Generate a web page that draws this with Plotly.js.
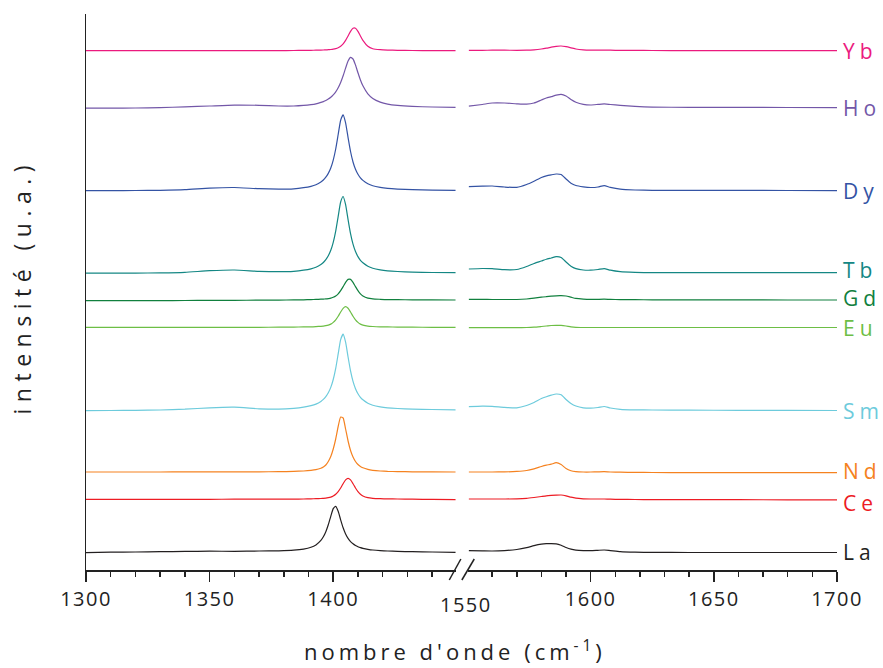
<!DOCTYPE html>
<html>
<head>
<meta charset="utf-8">
<script src="https://cdn.plot.ly/plotly-3.0.1.min.js"></script>
<style>
  html, body { margin: 0; padding: 0; background: #fff; }
  #chart { width: 883px; height: 668px; }
  .xtick text, .x2tick text { letter-spacing: 1.5px; }
</style>
</head>
<body>
<div id="chart"></div>
<script>
// ---- Data (intensity in arbitrary units, offsets included) ----
const elements = ['La', 'Ce', 'Nd', 'Sm', 'Eu', 'Gd', 'Tb', 'Dy', 'Ho', 'Yb'];
const colors = ['#231F20', '#ED1C24', '#F58220', '#6DCBDC', '#6DBE45', '#11803E', '#148784', '#3453A4', '#7357A8', '#EB1A7E'];

const xLeft = [1300,1310,1320,1330,1340,1350,1360,1370,1378,1384,1388,1391,1393,1395,1396,1397,1398,1399,1400,1401,1402,1403,1404,1405,1406,1407,1408,1409,1410,1411,1412,1414,1416,1419,1422,1426,1432,1440,1449.5];
const xRight = [1550.5,1556,1560,1565,1570,1574,1577,1580,1582,1584,1586,1588,1590,1592,1594,1597,1600,1603,1605.5,1608,1612,1618,1625,1640,1660,1680,1700];

const La_L = [17.3,17.8,18.0,18.3,18.6,18.8,18.7,19.0,19.2,19.8,20.9,22.7,25.1,29.6,33.2,38.3,45.2,53.7,61.4,63.7,58.7,50.2,42.2,36.0,31.6,28.4,26.2,24.5,23.3,22.4,21.7,20.7,20.0,19.4,19.0,18.6,18.3,18.0,17.6];
const Ce_L = [70.7,70.7,70.7,70.7,70.7,70.7,70.8,70.8,70.8,70.9,71.0,71.2,71.3,71.5,71.7,71.9,72.3,72.9,74.0,75.7,78.4,82.0,86.3,90.1,91.7,90.1,86.3,82.0,78.4,75.7,74.0,72.3,71.7,71.3,71.1,71.0,70.8,70.6,70.3];
const Nd_L = [98.0,98.0,98.0,98.0,98.1,98.1,98.1,98.2,98.3,98.6,99.0,99.6,100.3,101.8,103.0,105.0,108.5,113.5,121.0,131.0,143.5,153.0,152.0,141.0,129.0,119.5,113.0,108.5,105.5,103.5,102.2,100.6,99.7,99.0,98.6,98.4,98.2,98.1,98.0];
const Sm_L = [159.4,159.5,159.6,160.0,160.8,162.2,162.8,161.2,160.8,161.6,162.8,164.3,165.9,168.6,170.6,173.4,177.2,182.6,190.5,201.6,216.1,230.4,235.8,227.8,213.0,199.1,188.6,181.3,176.3,172.7,170.2,166.8,164.8,163.2,162.2,161.5,160.9,160.5,160.2];
const Eu_L = [242.7,242.7,242.7,242.7,242.7,242.7,242.7,242.7,242.8,242.9,243.1,243.2,243.4,243.7,243.9,244.3,244.9,245.9,247.6,250.2,253.8,258.0,261.7,263.3,261.7,258.0,253.8,250.2,247.6,245.9,244.9,243.9,243.5,243.2,243.1,242.9,242.8,242.7,242.7];
const Gd_L = [269.3,269.3,269.4,269.4,269.5,269.6,269.7,269.8,269.9,270.1,270.2,270.4,270.6,270.8,270.9,271.1,271.4,271.8,272.7,274.0,276.2,279.4,283.4,287.6,290.6,290.6,287.6,283.4,279.4,276.2,274.0,271.8,271.1,270.7,270.4,270.3,270.2,270.1,270.0];
const Tb_L = [296.8,296.8,296.9,297.1,297.7,299.3,300.0,298.7,298.3,298.7,299.8,301.2,302.8,305.5,307.5,310.4,314.2,319.7,327.7,338.9,353.6,368.0,373.5,365.4,350.4,336.4,325.8,318.4,313.4,309.7,307.2,303.8,301.8,300.2,299.2,298.5,297.9,297.5,297.3];
const Dy_L = [379.4,379.4,379.5,379.7,380.3,381.9,382.5,381.3,380.9,381.2,382.3,383.7,385.3,388.0,390.0,392.8,396.6,402.0,409.9,421.0,435.5,449.8,455.2,447.2,432.4,418.5,408.0,400.7,395.7,392.1,389.6,386.2,384.2,382.6,381.6,380.9,380.3,379.9,379.7];
const Ho_L = [461.8,461.9,462.0,462.4,463.1,464.0,464.9,464.7,464.0,464.0,464.6,465.4,466.2,467.6,468.4,469.5,470.9,472.7,475.1,478.1,482.2,487.5,494.2,501.9,509.0,512.7,511.0,505.0,497.2,490.0,484.2,476.2,471.6,467.9,465.9,464.6,463.6,463.0,462.7];
const Yb_L = [519.3,519.3,519.3,519.3,519.3,519.4,519.4,519.4,519.4,519.5,519.6,519.7,519.8,519.9,520.0,520.1,520.3,520.5,520.8,521.3,522.2,523.7,526.1,529.6,534.0,538.6,541.8,541.8,538.6,534.0,529.6,523.7,521.3,520.3,519.9,519.7,519.5,519.4,519.3];

const La_R = [19.3,19.1,19.0,19.4,20.5,22.3,24.3,25.8,26.3,26.4,26.2,24.8,22.5,20.8,19.9,19.4,19.3,19.7,20.0,19.4,18.4,17.8,17.6,17.5,17.5,17.5,17.5];
const Ce_R = [71.0,71.0,71.0,71.0,71.1,71.6,72.5,73.5,74.2,74.6,74.9,75.0,74.2,72.8,71.8,71.2,71.0,71.0,71.0,70.8,70.6,70.5,70.4,70.3,70.3,70.2,70.2];
const Nd_R = [98.0,98.0,98.0,98.1,98.6,99.5,101.2,103.5,104.8,105.8,107.3,105.5,101.5,99.3,98.4,98.0,98.0,98.2,98.3,98.0,97.8,97.6,97.5,97.4,97.4,97.3,97.3];
const Sm_R = [163.3,163.8,163.6,162.6,162.2,164.5,167.5,171.5,173.3,174.8,176.0,175.2,170.5,166.5,164.0,162.2,161.8,162.5,163.5,162.0,160.6,160.1,160.0,159.8,159.7,159.6,159.5];
const Eu_R = [242.4,242.4,242.4,242.4,242.4,242.5,242.8,243.5,244.0,244.5,244.7,244.6,244.0,243.2,242.7,242.5,242.5,242.5,242.5,242.5,242.5,242.5,242.5,242.5,242.5,242.5,242.5];
const Gd_R = [270.6,270.6,270.5,270.5,270.5,271.0,271.8,272.8,273.3,273.8,274.2,274.3,274.0,272.8,271.6,270.9,270.6,270.7,270.8,270.6,270.4,270.3,270.2,270.1,270.1,270.0,270.0];
const Tb_R = [301.0,301.5,301.3,300.3,300.5,303.5,306.5,309.0,310.8,312.0,313.3,312.5,308.0,303.8,301.4,300.0,299.8,300.5,301.4,299.8,298.3,297.6,297.3,297.3,297.3,297.4,297.3];
const Dy_R = [383.3,383.8,384.0,383.0,382.6,385.5,388.8,392.5,394.2,395.2,396.0,395.5,391.0,386.8,384.5,383.2,382.5,383.0,384.4,382.6,380.8,380.0,379.7,379.6,379.6,379.5,379.4];
const Ho_R = [463.8,465.5,467.0,467.0,466.2,465.8,467.0,470.0,472.0,473.3,474.8,475.7,474.0,470.5,467.8,465.6,465.0,465.6,466.1,465.5,464.6,463.6,462.9,462.7,462.6,462.5,462.4];
const Yb_R = [519.6,519.7,519.8,519.8,519.7,519.8,520.2,521.0,521.8,522.8,523.7,524.0,523.3,522.2,521.0,520.2,519.9,519.8,519.9,519.8,519.6,519.6,519.5,519.4,519.4,519.3,519.3];

const leftSeries = [La_L, Ce_L, Nd_L, Sm_L, Eu_L, Gd_L, Tb_L, Dy_L, Ho_L, Yb_L];
const rightSeries = [La_R, Ce_R, Nd_R, Sm_R, Eu_R, Gd_R, Tb_R, Dy_R, Ho_R, Yb_R];

const leftTicks = [1300, 1350, 1400];
const rightTicks = [1600, 1650, 1700];
const breakTickLabel = '1550';
const xTitle = "nombre d'onde (cm<sup>-1</sup>)";
const yTitle = 'intensité (u.a.)';

// label vertical nudges in px (style only)
const labelNudge = [1, -3, 1.5, 0, 0, 2.5, 2.5, 0, 0, 0];

// ---- Build traces ----
const FONT = 'Open Sans, Liberation Sans, sans-serif';
const traces = [];
elements.forEach((el, i) => {
  const line = { color: colors[i], width: 1.2, shape: 'spline', smoothing: 0.5 };
  traces.push({ x: xLeft, y: leftSeries[i], xaxis: 'x', yaxis: 'y', mode: 'lines', line, name: el, showlegend: false, hoverinfo: 'skip' });
  traces.push({ x: xRight, y: rightSeries[i], xaxis: 'x2', yaxis: 'y', mode: 'lines', line, name: el, showlegend: false, hoverinfo: 'skip' });
});

const annotations = elements.map((el, i) => {
  const r = rightSeries[i];
  return {
    text: el, xref: 'paper', x: 1, xshift: 9, xanchor: 'left',
    yref: 'y', y: r[r.length - 1], yanchor: 'middle', yshift: labelNudge[i],
    showarrow: false, font: { family: FONT, size: 21, color: colors[i] }
  };
});
annotations.push({
  text: breakTickLabel, xref: 'paper', x: 0.5093, xanchor: 'center', xshift: -2, yref: 'paper', y: 0, yanchor: 'top', yshift: -19,
  showarrow: false, font: { family: FONT, size: 20, color: '#222' }
});
annotations.push({
  text: xTitle, xref: 'paper', x: 0.4915, yref: 'paper', y: 0, yanchor: 'middle', yshift: -80,
  showarrow: false, font: { family: FONT, size: 22, color: '#222' }
});
annotations.push({
  text: yTitle, xref: 'paper', x: -0.0852, xanchor: 'center', yref: 'paper', y: 0.51, yanchor: 'middle',
  textangle: -90, showarrow: false, font: { family: FONT, size: 23, color: '#222' }
});

const axisCommon = {
  showline: true, linecolor: '#222', linewidth: 1.5, showgrid: false, zeroline: false,
  ticks: 'outside', ticklen: 10, tickwidth: 1.5, tickcolor: '#222',
  tickfont: { family: FONT, size: 20, color: '#222' }, tickmode: 'array', anchor: 'y',
  minor: { ticks: 'outside', ticklen: 5, tickwidth: 1.5, tickcolor: '#222', dtick: 10, showgrid: false }
};

const layout = {
  width: 883, height: 668,
  margin: { l: 86, r: 46, t: 14, b: 98 },
  paper_bgcolor: '#fff', plot_bgcolor: '#fff',
  showlegend: false,
  xaxis: Object.assign({}, axisCommon, { domain: [0, 0.4925], range: [1300, 1449.6], tickvals: leftTicks,
    minor: Object.assign({}, axisCommon.minor, { tick0: 1300 }) }),
  xaxis2: Object.assign({}, axisCommon, { domain: [0.5093, 1], range: [1550.4, 1700], tickvals: rightTicks,
    minor: Object.assign({}, axisCommon.minor, { tick0: 1550 }) }),
  yaxis: {
    range: [0, 556], showline: true, linecolor: '#222', linewidth: 1.5, showgrid: false, zeroline: false,
    showticklabels: false, ticks: '', anchor: 'x'
  },
  annotations,
  shapes: [
    { type: 'line', xref: 'paper', xsizemode: 'pixel', xanchor: 0.4925, x0: -6.6, x1: 5,
      yref: 'paper', ysizemode: 'pixel', yanchor: 0, y0: -10, y1: 11, line: { color: '#222', width: 1.5 } },
    { type: 'line', xref: 'paper', xsizemode: 'pixel', xanchor: 0.4925, x0: 6, x1: 18.4,
      yref: 'paper', ysizemode: 'pixel', yanchor: 0, y0: -10, y1: 11, line: { color: '#222', width: 1.5 } }
  ]
};

Plotly.newPlot('chart', traces, layout, { displayModeBar: false, staticPlot: true }).then(gd => {
  gd.querySelectorAll('.annotation-text').forEach(t => {
    const s = t.textContent;
    if (elements.indexOf(s) >= 0) t.style.letterSpacing = '5px';
    else if (s === breakTickLabel) t.style.letterSpacing = '1.5px';
    else if (s.indexOf('intens') === 0) t.style.letterSpacing = '6.5px';
    else t.style.letterSpacing = '4px';
  });
});
</script>
</body>
</html>
